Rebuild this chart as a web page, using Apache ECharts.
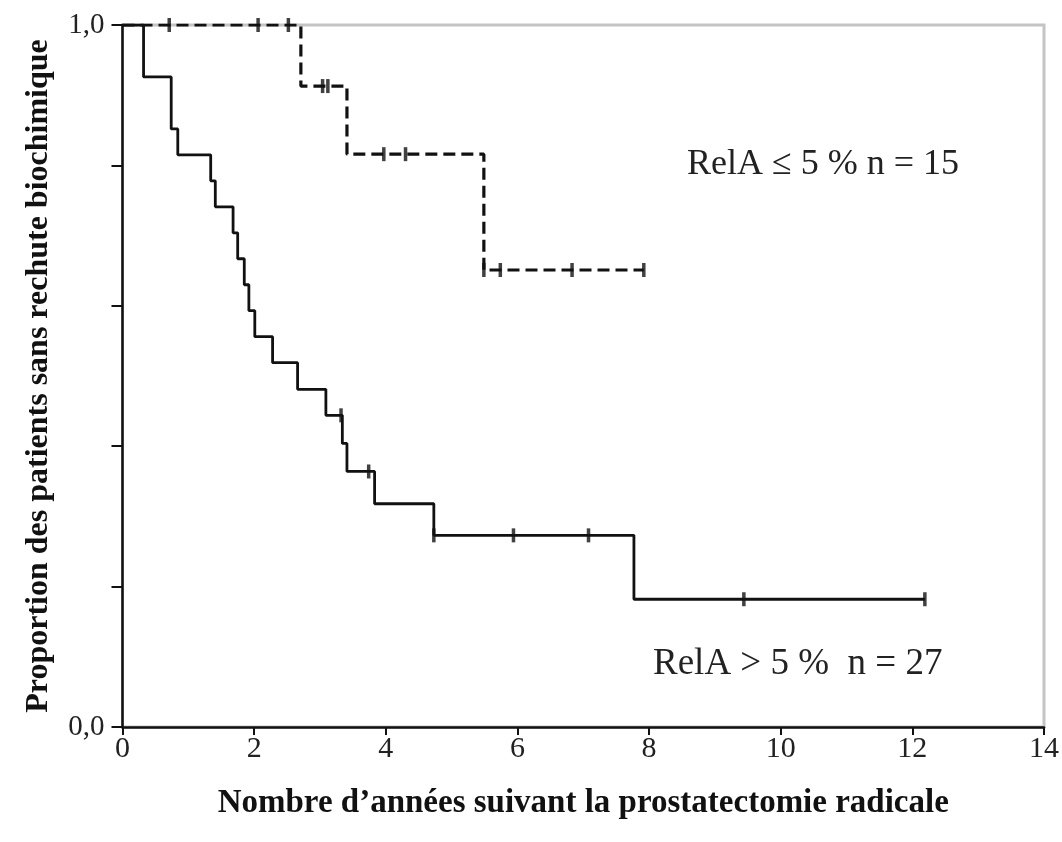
<!DOCTYPE html>
<html>
<head>
<meta charset="utf-8">
<script src="https://cdn.jsdelivr.net/npm/echarts@6/dist/echarts.min.js"></script>
<style>
html,body{margin:0;padding:0;background:#fff;}
#chart{width:1062px;height:842px;}
</style>
</head>
<body>
<div id="chart"></div>
<script>
// RelA > 5 % (n = 27) - solid curve: step points (time, survival)
const solidTimes = [0, 0.32, 0.74, 0.84, 1.34, 1.41, 1.68, 1.75, 1.85, 1.92, 2.01, 2.28, 2.66, 3.09, 3.34, 3.41, 3.83, 4.73, 7.77, 12.19];
const solidSurv  = [1, 0.926, 0.852, 0.815, 0.778, 0.741, 0.704, 0.667, 0.630, 0.593, 0.556, 0.519, 0.481, 0.444, 0.404, 0.364, 0.318, 0.273, 0.182, 0.182];
const solidCensorTimes = [3.32, 3.74, 4.73, 5.94, 7.08, 9.44, 12.19];
const solidCensorSurv  = [0.444, 0.364, 0.273, 0.273, 0.273, 0.182, 0.182];

// RelA <= 5 % (n = 15) - dashed curve
const dashedTimes = [0, 2.71, 3.41, 5.49, 7.92];
const dashedSurv  = [1, 0.913, 0.816, 0.651, 0.651];
const dashedCensorTimes = [0.71, 2.06, 2.52, 3.04, 3.12, 3.97, 4.30, 5.49, 5.74, 6.83, 7.92];
const dashedCensorSurv  = [1, 1, 1, 0.913, 0.913, 0.816, 0.816, 0.651, 0.651, 0.651, 0.651];

const xTicks = [0, 2, 4, 6, 8, 10, 12, 14];
const yLabels = {0: '0,0', 1: '1,0'};
const xTitle = 'Nombre d\u2019ann\u00e9es suivant la prostatectomie radicale';
const yTitle = 'Proportion des patients sans rechute biochimique';
const labelHigh = 'RelA \u2264 5 % n = 15';
const labelLow = 'RelA > 5 %  n = 27';

const zip = (a, b) => a.map((v, i) => [v, b[i]]);
const serif = '"Liberation Serif", "DejaVu Serif", serif';

const chart = echarts.init(document.getElementById('chart'));
chart.setOption({
  animation: false,
  backgroundColor: '#fff',
  grid: {left: 122.5, right: 16, top: 25, bottom: 115, show: true, borderColor: '#c4c4c4', borderWidth: 3, backgroundColor: 'transparent'},
  xAxis: {
    type: 'value', min: xTicks[0], max: xTicks[xTicks.length - 1], interval: 2,
    name: xTitle, nameLocation: 'middle', nameGap: 60,
    nameTextStyle: {fontFamily: serif, fontWeight: 'bold', fontSize: 33, color: '#111'},
    axisLine: {lineStyle: {color: '#111', width: 2.5}},
    axisTick: {show: true, length: 8, lineStyle: {color: '#111', width: 2}},
    axisLabel: {fontFamily: serif, fontSize: 30, color: '#222', margin: 7},
    splitLine: {show: false}
  },
  yAxis: {
    type: 'value', min: 0, max: 1, interval: 0.2,
    name: yTitle, nameLocation: 'middle', nameGap: 68,
    nameTextStyle: {fontFamily: serif, fontWeight: 'bold', fontSize: 32, color: '#111'},
    axisLine: {lineStyle: {color: '#111', width: 2.5}},
    axisTick: {show: true, length: 11, lineStyle: {color: '#111', width: 2}},
    axisLabel: {fontFamily: serif, fontSize: 29, color: '#222', margin: 18,
      formatter: v => (yLabels[Math.round(v * 10) / 10] !== undefined ? yLabels[Math.round(v * 10) / 10] : '')},
    splitLine: {show: false}
  },
  series: [
    {type: 'line', step: 'end', data: zip(solidTimes, solidSurv), showSymbol: false,
     lineStyle: {color: '#111', width: 2.8}, z: 3},
    {type: 'line', step: 'end', data: zip(dashedTimes, dashedSurv), showSymbol: false,
     lineStyle: {color: '#111', width: 3.2, type: [12, 6]}, z: 4},
    {type: 'scatter', data: zip(solidCensorTimes, solidCensorSurv), symbol: 'rect', symbolSize: [3.5, 14],
     itemStyle: {color: '#111'}, z: 5},
    {type: 'scatter', data: zip(dashedCensorTimes, dashedCensorSurv), symbol: 'rect', symbolSize: [3.5, 14],
     itemStyle: {color: '#111'}, z: 5}
  ],
  graphic: [
    {type: 'text', left: 687, top: 147, style: {text: labelHigh, fontFamily: serif, fontSize: 36, fill: '#222'}},
    {type: 'text', left: 653, top: 646, style: {text: labelLow, fontFamily: serif, fontSize: 37, fill: '#222'}}
  ]
});
</script>
</body>
</html>
